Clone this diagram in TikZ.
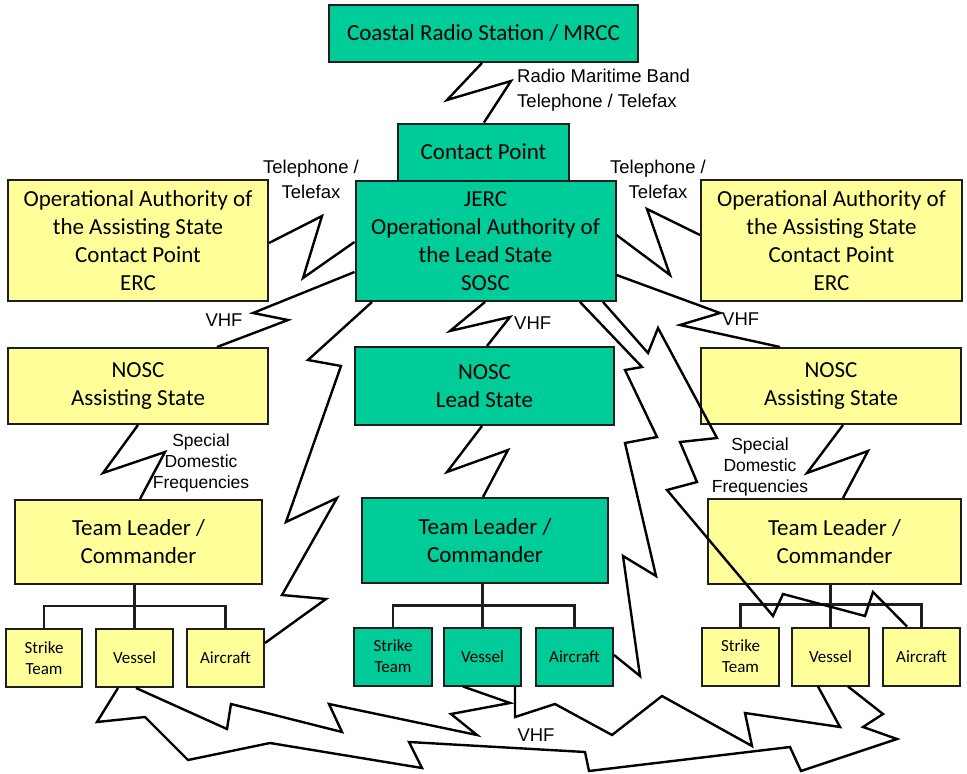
\documentclass[tikz,border=0pt]{standalone}
\usepackage{fontspec}
\setmainfont{Carlito}
\newfontfamily\labfont{Liberation Sans}
\definecolor{leadgreen}{RGB}{0,204,153}
\definecolor{assistyellow}{RGB}{255,255,153}
\definecolor{edge}{RGB}{30,30,30}
\tikzset{
  box/.style={draw=edge, line width=2pt, inner sep=0pt, align=center,
    font=\fontsize{23}{28}\selectfont},
  gbox/.style={box, fill=leadgreen},
  ybox/.style={box, fill=assistyellow},
  unitbox/.style={font=\fontsize{17}{21}\selectfont, minimum width=77pt, minimum height=58pt},
  zig/.style={draw=black, line width=2.4pt, miter limit=6},
  tree/.style={draw=edge, line width=2.2pt},
  lab/.style={font=\labfont\fontsize{18.5}{25}\selectfont, align=center, inner sep=0pt},
  smalllab/.style={font=\labfont\fontsize{17.5}{21}\selectfont, align=center, inner sep=0pt}
}
\begin{document}
\begin{tikzpicture}[x=1pt,y=-1pt]
\path[use as bounding box] (0,0) rectangle (967,774);

% command chain of the lead state
\node[gbox, minimum width=309pt, minimum height=57pt] (coastal) at (483.5,33.5) {Coastal Radio Station / MRCC};
\node[gbox, minimum width=260pt, minimum height=120pt] (jerc) at (485.5,241)
  {JERC\\Operational Authority of\\the Lead State\\SOSC};
\node[gbox, minimum width=171pt, minimum height=57pt] (contact) at (483.5,152) {Contact Point};
\node[gbox, minimum width=259pt, minimum height=78pt] (nosC) at (484.5,386) {NOSC\\Lead State};
\node[gbox, minimum width=246pt, minimum height=85pt] (teamC) at (485,540.5) {Team Leader /\\Commander};

% assisting states
\node[ybox, minimum width=260pt, minimum height=121pt] (opL) at (138,240.5)
  {Operational Authority of\\the Assisting State\\Contact Point\\ERC};
\node[ybox, minimum width=261pt, minimum height=121pt] (opR) at (831.5,240.5)
  {Operational Authority of\\the Assisting State\\Contact Point\\ERC};
\node[ybox, minimum width=260pt, minimum height=76pt] (nosL) at (138,386) {NOSC\\Assisting State};
\node[ybox, minimum width=260pt, minimum height=76pt] (nosR) at (831,386) {NOSC\\Assisting State};
\node[ybox, minimum width=247pt, minimum height=84pt] (teamL) at (138.5,542) {Team Leader /\\Commander};
\node[ybox, minimum width=253pt, minimum height=85pt] (teamR) at (834.5,541.5) {Team Leader /\\Commander};

% field units
\node[ybox, unitbox, minimum width=76pt] (strL) at (44,658) {Strike\\Team};
\node[ybox, unitbox] (vesL) at (134.5,658) {Vessel};
\node[ybox, unitbox] (airL) at (225.5,658) {Aircraft};
\node[gbox, unitbox, minimum width=78pt] (strC) at (393,656.5) {Strike\\Team};
\node[gbox, unitbox] (vesC) at (482.5,656.5) {Vessel};
\node[gbox, unitbox] (airC) at (574.5,656.5) {Aircraft};
\node[ybox, unitbox] (strR) at (740.5,656.5) {Strike\\Team};
\node[ybox, unitbox] (vesR) at (830.5,656.5) {Vessel};
\node[ybox, unitbox] (airR) at (921.5,656.5) {Aircraft};

% unit trees
\draw[tree] (teamL.south -| vesL.north) -- (vesL.north);
\draw[tree] (strL.north) -- ++(0,-22) -| (airL.north);
\draw[tree] (teamC.south -| vesC.north) -- (vesC.north);
\draw[tree] (strC.north) -- ++(0,-21) -| (airC.north);
\draw[tree] (teamR.south -| vesR.north) -- (vesR.north);
\draw[tree] (strR.north) -- ++(0,-22) -| (airR.north);

% radio and telephone links
\draw[zig] (coastal.south -| 482,0) -- (447,100) -- (511,81) -- (contact.north -| 484,0);
\node[lab, anchor=west, align=left] (radiolab) at (517,90.5) {Radio Maritime Band\\Telephone / Telefax};

\draw[zig] (opL.east |- 0,243) -- (322,216) -- (303,278) -- (jerc.west |- 0,242);
\node[lab] (tellabL) at (311,179.5) {Telephone /\\Telefax};
\draw[zig] (jerc.east |- 0,235) -- (670,275) -- (647,209) -- (opR.west |- 0,235);
\node[lab] (tellabR) at (658,179.5) {Telephone /\\Telefax};

\draw[zig] (jerc.west |- 0,272) -- (253,313) -- (288,320) -- (nosL.north -| 217,0);
\node[lab] (vhfL) at (224,320) {VHF};
\draw[zig] (jerc.east |- 0,275) -- (720,313) -- (680,325) -- (nosR.north -| 780,0);
\node[lab, anchor=west] (vhfR) at (722,319) {VHF};
\draw[zig] (jerc.south -| 485,0) -- (450,331) -- (510,317) -- (nosC.north -| 487,0);
\node[lab, anchor=west] (vhfC) at (514,323) {VHF};

\draw[zig] (nosC.south -| 482,0) -- (447,472) -- (508,450) -- (teamC.north -| 483,0);
\draw[zig] (nosL.south -| 138,0) -- (103,473) -- (165,452) -- (teamL.north -| 140,0);
\node[smalllab] (sdfL) at (201,463) {Special\\Domestic\\Frequencies};
\draw[zig] (nosR.south -| 843,0) -- (807,473) -- (868,451) -- (teamR.north -| 843,0);
\node[smalllab] (sdfR) at (760,467) {Special\\Domestic\\Frequencies};

% long links from the JERC to the aircraft
\draw[zig] (jerc.south -| 372,0) -- (308,360) -- (341,366) -- (286,522) -- (337,498)
  -- (282,595) -- (326,599) -- (airL.east |- 0,643);
\draw[zig] (jerc.south -| 580,0) -- (642,367) -- (625,370) -- (657,437) -- (625,443)
  -- (656,576) -- (623,556) -- (640,676) -- (airC.east |- 0,655);
\draw[zig] (jerc.south -| 603,0) -- (648,353) -- (658,328) -- (717,438) -- (680,442)
  -- (697,482) -- (667,490) -- (773,616) -- (783,594) -- (865,616) -- (873,592)
  -- (airR.north -| 907,0);

% VHF links between the vessels
\draw[zig] (vesL.south -| 136,0) -- (227,729) -- (231,704) -- (342,732) -- (329,704)
  -- (477,735) -- (451,714) -- (510,703) -- (vesC.south -| 463,0);
\draw[zig] (vesC.south -| 515,0) -- (515,717) -- (555,704) -- (612,735) -- (662,696)
  -- (752,746) -- (745,713) -- (840,727) -- (vesR.south -| 818,0);
\draw[zig] (vesL.south -| 118,0) -- (97,722) -- (145,717) -- (188,760) -- (270,743)
  -- (422,768) -- (409,742) -- (585,752) -- (589,771) -- (790,747) -- (801,771)
  -- (897,739) -- (863,727) -- (883,714) -- (vesR.south -| 848,0);
\node[lab] (vhfB) at (536,735) {VHF};
\end{tikzpicture}
\end{document}
